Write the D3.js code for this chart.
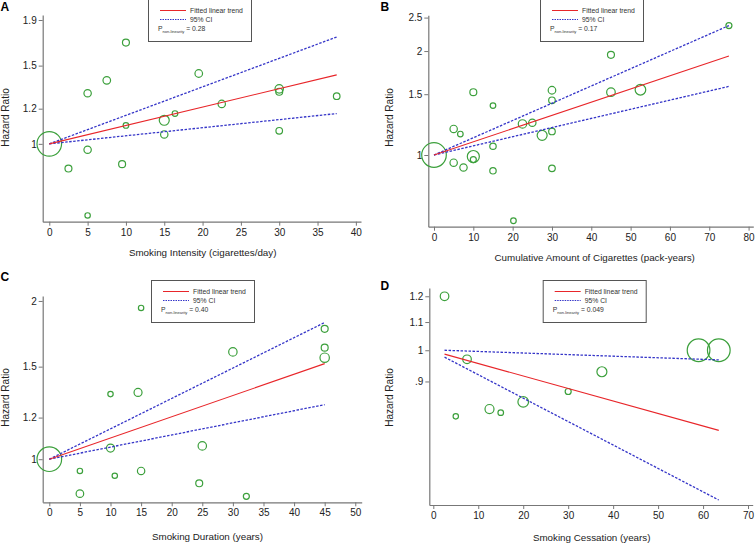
<!DOCTYPE html>
<html><head><meta charset="utf-8">
<script src="https://cdn.jsdelivr.net/npm/d3@7"></script>
<style>
body{margin:0;background:#fff;}
svg{display:block;font-family:"Liberation Sans",Arial,sans-serif;}
</style></head>
<body><svg id="c" width="755" height="543"></svg>
<script>
// ---------- DATA ----------
// Panel A: Smoking Intensity
const xA  = [0, 2.5, 5, 5, 5, 7.5, 9.5, 10, 10, 15, 15, 16.4, 19.5, 22.5, 30, 30, 30, 37.5];
const hrA = [1, 0.88, 0.97, 1.30, 0.69, 1.39, 0.90, 1.69, 1.10, 1.13, 1.05, 1.17, 1.44, 1.23, 1.33, 1.31, 1.07, 1.28];
const wA  = [100, 8, 9, 9, 4.8, 9.5, 8, 8, 5.2, 16.5, 9, 5.2, 9.5, 9, 11.7, 8, 7.2, 7.2];
const fitXA = [0, 37.5], fitA = [1, 1.43], upA = [1, 1.74], loA = [1, 1.17];
const xTicksA = [0,5,10,15,20,25,30,35,40], yTicksA = [1,1.2,1.5,1.9], yLabA = ["1","1.2","1.5","1.9"];

// Panel B: Cumulative amount
const xB  = [0, 5, 6.7, 5, 7.5, 10, 10, 10, 15, 15, 15, 20.2, 22.5, 25, 27.5, 30, 30, 30, 30, 45, 45, 52.5, 75];
const hrB = [1, 1.19, 1.15, 0.95, 0.92, 1.52, 0.99, 0.97, 1.39, 1.06, 0.90, 0.645, 1.23, 1.24, 1.14, 1.54, 1.44, 1.17, 0.915, 1.95, 1.52, 1.545, 2.37];
const wB  = [100, 9, 5.2, 9, 9, 8, 24, 6, 5.2, 6.8, 6.8, 5.2, 11.7, 9, 16.5, 9.5, 7.2, 7.2, 7.2, 8, 12.2, 18.6, 6];
const fitXB = [0, 75], fitB = [1, 1.935], upB = [1, 2.37], loB = [1, 1.58];
const xTicksB = [0,10,20,30,40,50,60,70,80], yTicksB = [1,1.5,2,2.5], yLabB = ["1","1.5","2","2.5"];

// Panel C: Smoking Duration
const xC  = [0, 5, 5, 10, 10, 10.7, 14.5, 15, 15, 24.5, 25, 30, 32.2, 45, 45, 45];
const hrC = [1, 0.95, 0.86, 1.33, 1.05, 0.93, 1.34, 1.94, 0.95, 0.90, 1.06, 1.60, 0.85, 1.77, 1.63, 1.56];
const wC  = [100, 4.8, 9.5, 4.8, 10.6, 4.8, 10.6, 4.8, 9, 8, 11.7, 11.7, 6, 8, 8, 14.6];
const fitXC = [0, 45], fitC = [1, 1.52], upC = [1, 1.82], loC = [1, 1.27];
const xTicksC = [0,5,10,15,20,25,30,35,40,45,50], yTicksC = [1,1.2,1.5,2], yLabC = ["1","1.2","1.5","2"];

// Panel D: Smoking Cessation
const xD  = [2.5, 5, 7.5, 12.5, 15, 20, 30, 37.5, 59, 63.5];
const hrD = [1.2, 0.80, 0.97, 0.82, 0.81, 0.84, 0.87, 0.93, 1.0, 1.0];
const wD  = [12.2, 4.8, 12.2, 13.4, 5.2, 18.6, 6, 16.5, 85, 85];
const fitXD = [2.5, 63.5], fitD = [0.987, 0.763], upD = [1.0, 0.968], loD = [0.977, 0.603];
const xTicksD = [0,10,20,30,40,50,60,70], yTicksD = [0.9,1,1.1,1.2], yLabD = [".9","1","1.1","1.2"];

const letters = ["A","B","C","D"];
const xTitles = ["Smoking Intensity (cigarettes/day)","Cumulative Amount of Cigarettes (pack-years)","Smoking Duration (years)","Smoking Cessation (years)"];
const pValues = ["0.28","0.17","0.40","0.049"];
const legendLabels = ["Fitted linear trend","95% CI"];

// ---------- LAYOUT ----------
const panels = [
  {x:xA,hr:hrA,w:wA,fx:fitXA,fit:fitA,up:upA,lo:loA,xt:xTicksA,yt:yTicksA,yl:yLabA,
   xDom:[-0.86,40.67], yDom:[0.668,1.95], L:42.7,R:361,T:15,B:221.7,
   letter:[0.5,10.5], yTitle:[9,117.5], xTitle:[202.7,256], leg:[148,-1]},
  {x:xB,hr:hrB,w:wB,fx:fitXB,fit:fitB,up:upB,lo:loB,xt:xTicksB,yt:yTicksB,yl:yLabB,
   xDom:[-1.45,81.2], yDom:[0.62,2.54], L:428.3,R:753.3,T:15.2,B:226.7,
   letter:[380.5,10.5], yTitle:[393,117.5], xTitle:[594.7,261], leg:[540,-1]},
  {x:xC,hr:hrC,w:wC,fx:fitXC,fit:fitC,up:upC,lo:loC,xt:xTicksC,yt:yTicksC,yl:yLabC,
   xDom:[-1.08,51.05], yDom:[0.828,2.044], L:42.7,R:361.7,T:296,B:502.3,
   letter:[0.5,281], yTitle:[9,397.5], xTitle:[207.5,540], leg:[151,280]},
  {x:xD,hr:hrD,w:wD,fx:fitXD,fit:fitD,up:upD,lo:loD,xt:xTicksD,yt:yTicksD,yl:yLabD,
   xDom:[-0.89,71.04], yDom:[0.593,1.234], L:429.3,R:752.7,T:288,B:505,
   letter:[380.5,290], yTitle:[393,397.5], xTitle:[591.7,541], leg:[542.7,280]}
];

const svg = d3.select("#c");
const rScale = d3.scaleSqrt().domain([0,100]).range([0,12.3]);
const GREEN = "#3ca03c", RED = "#e8262a", BLUE = "#3535c8", AX = "#777";

panels.forEach((p,i)=>{
  const g = svg.append("g");
  const x = d3.scaleLinear().domain(p.xDom).range([p.L,p.R]);
  const y = d3.scaleLog().domain(p.yDom).range([p.B,p.T]);

  // axes
  const xa = g.append("g").attr("transform",`translate(0,${p.B})`)
    .call(d3.axisBottom(x).tickValues(p.xt).tickSize(4).tickPadding(3).tickSizeOuter(0));
  const ya = g.append("g").attr("transform",`translate(${p.L},0)`)
    .call(d3.axisLeft(y).tickValues(p.yt).tickFormat((d,j)=>p.yl[j]).tickSize(4).tickPadding(2).tickSizeOuter(0));
  [xa,ya].forEach(a=>{
    a.select(".domain").attr("stroke",AX).attr("stroke-width",1.2);
    a.selectAll(".tick line").attr("stroke",AX);
    a.selectAll(".tick text").attr("fill","#222").style("font-size","10px").style("font-family","Liberation Sans, Arial, sans-serif");
  });

  // titles
  g.append("text").attr("x",p.xTitle[0]).attr("y",p.xTitle[1]).attr("text-anchor","middle")
    .attr("fill","#222").style("font-size","9.8px").text(xTitles[i]);
  g.append("text").attr("transform",`translate(${p.yTitle[0]},${p.yTitle[1]}) rotate(-90)`)
    .attr("text-anchor","middle").attr("fill","#222").style("font-size","10px").text("Hazard Ratio");
  g.append("text").attr("x",p.letter[0]).attr("y",p.letter[1]).attr("fill","#000")
    .style("font-size","12px").style("font-weight","bold").text(letters[i]);

  // points
  const pts = p.x.map((v,j)=>({x:v,hr:p.hr[j],w:p.w[j]}));
  g.selectAll("circle.pt").data(pts).join("circle").attr("class","pt")
    .attr("cx",d=>x(d.x)).attr("cy",d=>y(d.hr)).attr("r",d=>rScale(d.w))
    .attr("fill","none").attr("stroke",GREEN).attr("stroke-width",1.2);

  // lines
  const line = d3.line().x(d=>x(d[0])).y(d=>y(d[1]));
  const mk = arr => p.fx.map((v,j)=>[v,arr[j]]);
  [p.up,p.lo].forEach(arr=>{
    g.append("path").attr("d",line(mk(arr))).attr("fill","none").attr("stroke",BLUE)
      .attr("stroke-width",1.3).attr("stroke-dasharray","2.5,1.5");
  });
  g.append("path").attr("d",line(mk(p.fit))).attr("fill","none").attr("stroke",RED).attr("stroke-width",1.1);

  // legend
  const lg = g.append("g").attr("transform",`translate(${p.leg[0]},${p.leg[1]})`);
  lg.append("rect").attr("x",0.5).attr("y",0.5).attr("width",103).attr("height",42)
    .attr("fill","#fff").attr("stroke","#555").attr("stroke-width",1);
  lg.append("line").attr("x1",12).attr("x2",38).attr("y1",11.5).attr("y2",11.5).attr("stroke",RED).attr("stroke-width",1);
  lg.append("line").attr("x1",12).attr("x2",38).attr("y1",20.5).attr("y2",20.5).attr("stroke",BLUE)
    .attr("stroke-width",1).attr("stroke-dasharray","1.5,1");
  lg.append("text").attr("x",42).attr("y",13.5).attr("fill","#333").style("font-size","6.8px").text(legendLabels[0]);
  lg.append("text").attr("x",42).attr("y",22.6).attr("fill","#333").style("font-size","6.8px").text(legendLabels[1]);
  const pt = lg.append("text").attr("x",10).attr("y",32).attr("fill","#333").style("font-size","6.8px");
  pt.append("tspan").text("P");
  pt.append("tspan").attr("dy",1.5).style("font-size","4px").text("non-linearity");
  pt.append("tspan").attr("dy",-1.5).text(" = " + pValues[i]);
});
</script></body></html>
